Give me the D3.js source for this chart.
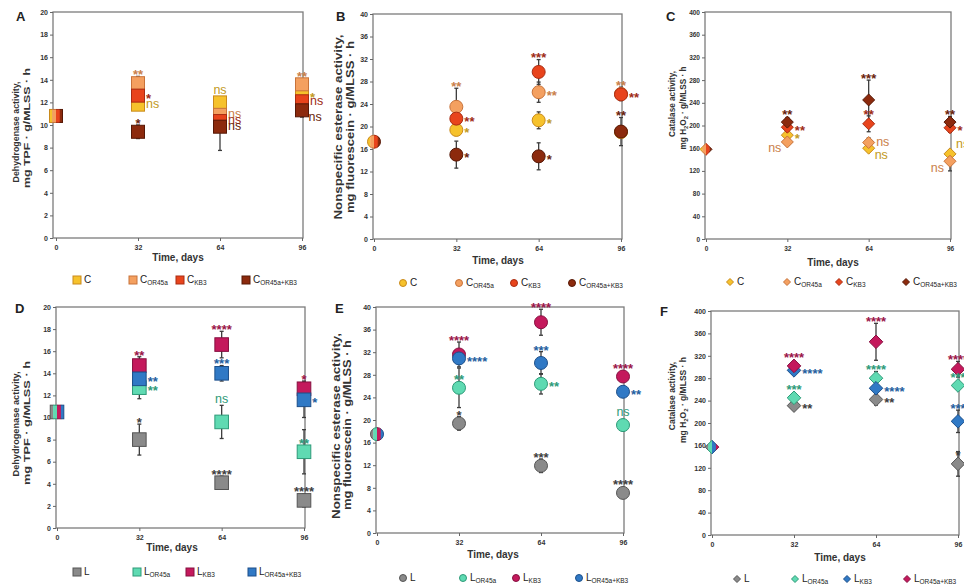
<!DOCTYPE html>
<html><head><meta charset="utf-8">
<script src="https://cdn.jsdelivr.net/npm/d3@7"></script>
<style>body{margin:0;background:#fff}svg{display:block}</style>
</head><body><svg id="c" width="964" height="586"></svg>
<script>
// ---------------- DATA ----------------
const days = [0, 32, 64, 96];
const dehydTicks = [0, 2, 4, 6, 8, 10, 12, 14, 16, 18, 20];
const esterTicks = [0, 4, 8, 12, 16, 20, 24, 28, 32, 36, 40];
const catalTicks = [0, 40, 80, 120, 160, 200, 240, 280, 320, 360, 400];

const namesC = [["C", ""], ["C", "OR45a"], ["C", "KB3"], ["C", "OR45a+KB3"]];
const namesL = [["L", ""], ["L", "OR45a"], ["L", "KB3"], ["L", "OR45a+KB3"]];

// Panel A – dehydrogenase, C series
const A_C = [10.8, 11.8, 12.0, 12.7];      const A_C_err = [0.3, 0.4, 0.4, 0.3];     const A_C_sig = ["", "ns", "ns", "*"];
const A_COR = [10.8, 13.7, 10.9, 13.6];    const A_COR_err = [0.3, 0.6, 0.5, 0.4];   const A_COR_sig = ["", "**", "ns", "**"];
const A_CKB = [10.8, 12.6, 10.35, 12.1];   const A_CKB_err = [0.3, 0.4, 0.4, 0.4];   const A_CKB_sig = ["", "*", "ns", "ns"];
const A_CORKB = [10.8, 9.4, 9.85, 11.3];   const A_CORKB_err = [0.3, 0.6, 2.1, 0.6]; const A_CORKB_sig = ["", "*", "ns", "ns"];

// Panel B – nonspecific esterase, C series
const B_C = [17.3, 19.4, 21.1, 19.0];      const B_C_err = [0.4, 1.0, 1.5, 0.6];     const B_C_sig = ["", "*", "*", ""];
const B_COR = [17.3, 23.5, 26.1, 25.8];    const B_COR_err = [0.4, 3.3, 1.8, 1.2];   const B_COR_sig = ["", "**", "**", "**"];
const B_CKB = [17.3, 21.4, 29.7, 25.7];    const B_CKB_err = [0.4, 1.2, 2.2, 1.0];   const B_CKB_sig = ["", "**", "***", "**"];
const B_CORKB = [17.3, 15.0, 14.7, 19.1];  const B_CORKB_err = [0.4, 2.4, 2.4, 2.5]; const B_CORKB_sig = ["", "*", "*", "**"];

// Panel C – catalase, C series
const C_C = [158, 183, 160, 150];          const C_C_err = [3, 5, 5, 6];             const C_C_sig = ["", "*", "ns", "ns"];
const C_COR = [158, 171, 170, 137];        const C_COR_err = [3, 6, 8, 17];          const C_COR_sig = ["", "ns", "ns", "ns"];
const C_CKB = [158, 197, 203, 196];        const C_CKB_err = [3, 8, 14, 8];          const C_CKB_sig = ["", "**", "**", "*"];
const C_CORKB = [158, 206, 245, 206];      const C_CORKB_err = [3, 8, 35, 10];       const C_CORKB_sig = ["", "**", "***", "**"];

// Panel D – dehydrogenase, L series
const D_L = [10.5, 8.0, 4.1, 2.5];         const D_L_err = [0.3, 1.4, 0.6, 0.6];     const D_L_sig = ["", "*", "****", "****"];
const D_LOR = [10.5, 12.7, 9.6, 6.9];      const D_LOR_err = [0.3, 1.0, 1.5, 2.0];   const D_LOR_sig = ["", "**", "ns", "**"];
const D_LKB = [10.5, 14.7, 16.6, 12.6];    const D_LKB_err = [0.3, 0.8, 1.2, 0.7];   const D_LKB_sig = ["", "**", "****", "*"];
const D_LORKB = [10.5, 13.5, 14.0, 11.6];  const D_LORKB_err = [0.3, 0.6, 0.7, 1.6]; const D_LORKB_sig = ["", "**", "***", "*"];

// Panel E – nonspecific esterase, L series
const E_L = [17.5, 19.4, 11.9, 7.1];       const E_L_err = [0.4, 1.2, 1.2, 0.6];     const E_L_sig = ["", "*", "***", "****"];
const E_LOR = [17.5, 25.7, 26.4, 19.1];    const E_LOR_err = [0.4, 3.5, 1.8, 1.0];   const E_LOR_sig = ["", "**", "**", "ns"];
const E_LKB = [17.5, 31.6, 37.3, 27.7];    const E_LKB_err = [0.4, 2.2, 2.3, 0.8];   const E_LKB_sig = ["", "****", "****", "****"];
const E_LORKB = [17.5, 30.9, 30.1, 25.0];  const E_LORKB_err = [0.4, 1.0, 2.0, 0.8]; const E_LORKB_sig = ["", "****", "***", "**"];

// Panel F – catalase, L series
const F_L = [157, 231, 242, 127];          const F_L_err = [3, 6, 10, 22];           const F_L_sig = ["", "**", "**", "*"];
const F_LOR = [157, 245, 280, 267];        const F_LOR_err = [3, 6, 12, 6];          const F_LOR_sig = ["", "***", "****", "***"];
const F_LKB = [157, 294, 262, 203];        const F_LKB_err = [3, 4, 6, 20];          const F_LKB_sig = ["", "****", "****", "***"];
const F_LORKB = [157, 302, 345, 296];      const F_LORKB_err = [3, 6, 33, 14];       const F_LORKB_sig = ["", "****", "****", "****"];

const titleDH = [[["Dehydrogenase activity,", 0]], [["mg TPF · g/MLSS · h", 0]]];
const titleNE = [[["Nonspecific esterase activity,", 0]], [["mg fluorescein · g/MLSS · h", 0]]];
const titleCA = [[["Catalase activity,", 0]], [["mg H", 0], ["2", 1], ["O", 0], ["2", 1], [" · g/MLSS · h", 0]]];
const xTitle = "Time, days";

// ---------------- STYLE / LAYOUT ----------------
const FONT = "'Liberation Sans', Arial, Helvetica, sans-serif";
const colC = [
  {fill: "#F6C22C", stroke: "#C98A1C", text: "#C29A22"},
  {fill: "#F4A060", stroke: "#C8733A", text: "#C9804A"},
  {fill: "#E8441C", stroke: "#A92C12", text: "#9E2C14"},
  {fill: "#8C2A0D", stroke: "#561806", text: "#6A1E0A"}
];
const colL = [
  {fill: "#8A8A8A", stroke: "#555555", text: "#3E3E3E"},
  {fill: "#5FDAB2", stroke: "#2E9A78", text: "#2E9A78"},
  {fill: "#C4195C", stroke: "#861040", text: "#9A1448"},
  {fill: "#3079C5", stroke: "#1C4F8A", text: "#245E9E"}
];
const colLF = [colL[0], colL[1], colL[3], colL[2]];

const panels = [
  {letter: "A", lx: 16, ly: 21, x0: 56, x96: 302, fl: 53, fr: 303, top: 12, bottom: 238, ticks: dehydTicks,
   shape: "square", ms: 6.5, names: namesC, cols: colC, title: titleDH, tfs: 8.8, tkfs: 7,
   yt: [{x: 16, c: 132, len: 101}, {x: 27, c: 128, len: 120}], xt: [178, 261], leg: {y: 280, xs: [77, 133, 180, 246]},
   series: [[A_C, A_C_err, A_C_sig, [0, "r", "t", "r"]], [A_COR, A_COR_err, A_COR_sig, [0, "t", "r", "t"]],
            [A_CKB, A_CKB_err, A_CKB_sig, [0, "r", "r", "r"]], [A_CORKB, A_CORKB_err, A_CORKB_sig, [0, "t", "r", "rb"]]]},
  {letter: "B", lx: 336, ly: 21, x0: 374, x96: 621, fl: 373, fr: 622, top: 14, bottom: 239, ticks: esterTicks,
   shape: "circle", ms: 6.5, names: namesC, cols: colC, title: titleNE, tfs: 10, tkfs: 7,
   yt: [{x: 338, c: 127, len: 185}, {x: 350, c: 127, len: 172}], xt: [498, 264], leg: {y: 283, xs: [403, 459, 514, 572]},
   series: [[B_C, B_C_err, B_C_sig, [0, "r", "r", 0]], [B_COR, B_COR_err, B_COR_sig, [0, "t", "r", "t"]],
            [B_CKB, B_CKB_err, B_CKB_sig, [0, "r", "t", "r"]], [B_CORKB, B_CORKB_err, B_CORKB_sig, [0, "r", "r", "t"]]]},
  {letter: "C", lx: 666, ly: 21, x0: 706, x96: 950, fl: 705, fr: 951, top: 12, bottom: 239, ticks: catalTicks,
   shape: "diamond", ms: 6, names: namesC, cols: colC, title: titleCA, tfs: 8.2, tkfs: 6.5,
   yt: [{x: 672, c: 104, len: 0}, {x: 683, c: 108, len: 0}], xt: [833, 266], leg: {y: 282, xs: [730, 787, 839, 906]},
   series: [[C_C, C_C_err, C_C_sig, [0, "r", "rb", "rt"]], [C_COR, C_COR_err, C_COR_sig, [0, "lb", "r", "lb"]],
            [C_CKB, C_CKB_err, C_CKB_sig, [0, "r", "t", "r"]], [C_CORKB, C_CORKB_err, C_CORKB_sig, [0, "t", "t", "t"]]]},
  {letter: "D", lx: 15, ly: 313, x0: 57, x96: 304, fl: 56, fr: 305, top: 307, bottom: 528, ticks: dehydTicks,
   shape: "square", ms: 6.8, names: namesL, cols: colL, title: titleDH, tfs: 8.8, tkfs: 7,
   yt: [{x: 16, c: 424, len: 105}, {x: 27, c: 423, len: 124}], xt: [172, 551], leg: {y: 572, xs: [77, 137, 190, 252]},
   series: [[D_L, D_L_err, D_L_sig, [0, "t", "t", "t"]], [D_LOR, D_LOR_err, D_LOR_sig, [0, "r", "t", "tm"]],
            [D_LKB, D_LKB_err, D_LKB_sig, [0, "t", "t", "t"]], [D_LORKB, D_LORKB_err, D_LORKB_sig, [0, "r", "t", "r"]]]},
  {letter: "E", lx: 335, ly: 313, x0: 377, x96: 623, fl: 376, fr: 624, top: 307, bottom: 533, ticks: esterTicks,
   shape: "circle", ms: 6.5, names: namesL, cols: colL, title: titleNE, tfs: 10, tkfs: 7,
   yt: [{x: 336, c: 426, len: 186}, {x: 347, c: 425, len: 170}], xt: [493, 558], leg: {y: 578, xs: [403, 463, 516, 579]},
   series: [[E_L, E_L_err, E_L_sig, [0, "t", "t", "t"]], [E_LOR, E_LOR_err, E_LOR_sig, [0, "tm", "r", "t"]],
            [E_LKB, E_LKB_err, E_LKB_sig, [0, "t", "t", "t"]], [E_LORKB, E_LORKB_err, E_LORKB_sig, [0, "r", "t", "r"]]]},
  {letter: "F", lx: 660, ly: 316, x0: 712, x96: 958, fl: 711, fr: 959, top: 311, bottom: 535, ticks: catalTicks,
   shape: "diamond", ms: 6.8, names: namesL, cols: colLF, title: titleCA, tfs: 8.5, tkfs: 7,
   yt: [{x: 672, c: 396, len: 0}, {x: 683, c: 400, len: 0}], xt: [840, 561], leg: {y: 579, xs: [737, 795, 847, 907]},
   series: [[F_L, F_L_err, F_L_sig, [0, "r", "r", "tm"]], [F_LOR, F_LOR_err, F_LOR_sig, [0, "tm", "t", "tm"]],
            [F_LKB, F_LKB_err, F_LKB_sig, [0, "r", "r", "t"]], [F_LORKB, F_LORKB_err, F_LORKB_sig, [0, "tm", "t", "t"]]]}
];

// ---------------- DRAW ----------------
const svg = d3.select("#c");
const defs = svg.append("defs");
let clipId = 0;

function shapeEl(g, shape, cx, cy, ms) {
  if (shape === "square") return g.append("rect").attr("x", cx - ms).attr("y", cy - ms).attr("width", 2 * ms).attr("height", 2 * ms);
  if (shape === "circle") return g.append("circle").attr("cx", cx).attr("cy", cy).attr("r", ms);
  return g.append("path").attr("d", `M${cx},${cy - ms}L${cx + ms},${cy}L${cx},${cy + ms}L${cx - ms},${cy}Z`);
}

function sigLabel(g, s, x, y, anchor, color) {
  const star = s.indexOf("*") >= 0;
  const fs = star ? 13 : 12.5;
  g.append("text").attr("x", x).attr("y", y + (star ? 0.57 : 0.27) * fs)
    .attr("text-anchor", anchor).attr("font-size", fs).attr("font-weight", star ? "bold" : "normal")
    .attr("font-family", FONT).attr("fill", color).text(s);
}

panels.forEach(p => {
  const g = svg.append("g");
  const x = d3.scaleLinear().domain([0, 96]).range([p.x0, p.x96]);
  const y = d3.scaleLinear().domain([0, p.ticks[p.ticks.length - 1]]).range([p.bottom, p.top]);

  g.append("rect").attr("x", p.fl).attr("y", p.top).attr("width", p.fr - p.fl).attr("height", p.bottom - p.top)
    .attr("fill", "none").attr("stroke", "#7c7c7c").attr("stroke-width", 1.3);

  const ya = g.append("g").attr("transform", `translate(${p.fl},0)`)
    .call(d3.axisLeft(y).tickValues(p.ticks).tickSize(3).tickPadding(2).tickFormat(d3.format("d")));
  const xa = g.append("g").attr("transform", `translate(0,${p.bottom})`)
    .call(d3.axisBottom(x).tickValues(days).tickSize(3).tickPadding(4).tickFormat(d3.format("d")));
  [ya, xa].forEach(a => {
    a.select(".domain").remove();
    a.selectAll("line").attr("stroke", "#666");
    a.selectAll("text").attr("font-size", p.tkfs).attr("font-weight", "bold").attr("fill", "#333").attr("font-family", FONT);
  });

  g.append("text").attr("x", p.lx).attr("y", p.ly).attr("font-size", 13).attr("font-weight", "bold")
    .attr("font-family", FONT).attr("fill", "#222").text(p.letter);

  p.title.forEach((line, i) => {
    const t = g.append("text").attr("transform", `translate(${p.yt[i].x},${p.yt[i].c}) rotate(-90)`)
      .attr("text-anchor", "middle").attr("dy", "0.35em").attr("font-size", p.tfs).attr("font-weight", "bold")
      .attr("font-family", FONT).attr("fill", "#333");
    if (p.yt[i].len) t.attr("textLength", p.yt[i].len).attr("lengthAdjust", "spacingAndGlyphs");
    let shifted = false;
    line.forEach(([txt, sub]) => {
      const ts = t.append("tspan").text(txt.replace(/ /g, "\u00A0"));
      if (sub) { ts.attr("font-size", p.tfs * 0.7).attr("dy", 2); shifted = true; }
      else if (shifted) { ts.attr("dy", -2); shifted = false; }
    });
  });

  g.append("text").attr("x", p.xt[0]).attr("y", p.xt[1]).attr("text-anchor", "middle").attr("font-size", 10)
    .attr("font-weight", "bold").attr("font-family", FONT).attr("fill", "#333").text(xTitle);

  const eg = g.append("g").attr("stroke", "#3c3c3c").attr("stroke-width", 1.3);
  p.series.forEach(([vals, errs]) => {
    vals.forEach((v, j) => {
      const cx = x(days[j]), y1 = y(v - errs[j]), y2 = y(v + errs[j]);
      eg.append("line").attr("x1", cx).attr("x2", cx).attr("y1", y1).attr("y2", y2);
      eg.append("line").attr("x1", cx - 2).attr("x2", cx + 2).attr("y1", y1).attr("y2", y1);
      eg.append("line").attr("x1", cx - 2).attr("x2", cx + 2).attr("y1", y2).attr("y2", y2);
    });
  });

  const mg = g.append("g");
  const n = p.series.length;
  p.series.forEach(([vals], i) => {
    const c = p.cols[i];
    vals.forEach((v, j) => {
      const cx = x(days[j]), cy = y(v);
      const el = shapeEl(mg, p.shape, cx, cy, p.ms).attr("fill", c.fill).attr("stroke", c.stroke).attr("stroke-width", 1);
      if (j === 0) {
        const id = "clp" + (clipId++);
        const w = 2 * p.ms + 2;
        defs.append("clipPath").attr("id", id).append("rect")
          .attr("x", cx - p.ms - 1 + i * w / n).attr("y", cy - p.ms - 2).attr("width", w / n + 0.3).attr("height", 2 * p.ms + 4);
        el.attr("clip-path", `url(#${id})`);
      }
    });
  });

  const lg = g.append("g");
  p.series.forEach(([vals, errs, sigs, place], i) => {
    const c = p.cols[i];
    vals.forEach((v, j) => {
      const s = sigs[j], pl = place[j];
      if (!s || !pl) return;
      const star = s.indexOf("*") >= 0;
      const cx = x(days[j]), cy = y(v), ms = p.ms;
      const gap = star ? 4.5 : 5.5;
      const errTop = y(v + errs[j]);
      if (pl === "t") sigLabel(lg, s, cx, Math.min(cy - ms, errTop) - gap, "middle", c.text);
      else if (pl === "tm") sigLabel(lg, s, cx, cy - ms - gap, "middle", c.text);
      else if (pl === "r") sigLabel(lg, s, cx + ms + 1.5, cy, "start", c.text);
      else if (pl === "rb") sigLabel(lg, s, cx + ms, cy + ms + 1, "start", c.text);
      else if (pl === "rt") sigLabel(lg, s, cx + ms, cy - ms - 3, "start", c.text);
      else if (pl === "lb") sigLabel(lg, s, cx - ms, cy + ms + 1, "end", c.text);
    });
  });

  const leg = g.append("g");
  p.names.forEach(([base, sub], i) => {
    const c = p.cols[i], lx = p.leg.xs[i], ly = p.leg.y;
    shapeEl(leg, p.shape, lx, ly, p.shape === "square" ? 4 : 3.5).attr("fill", c.fill).attr("stroke", c.stroke).attr("stroke-width", 1);
    const t = leg.append("text").attr("x", lx + 7).attr("y", ly + 3.4).attr("font-size", 10)
      .attr("font-family", FONT).attr("fill", "#222");
    t.append("tspan").text(base);
    if (sub) t.append("tspan").attr("font-size", 6.5).attr("dy", 1.8).text(sub);
  });
});
</script></body></html>
